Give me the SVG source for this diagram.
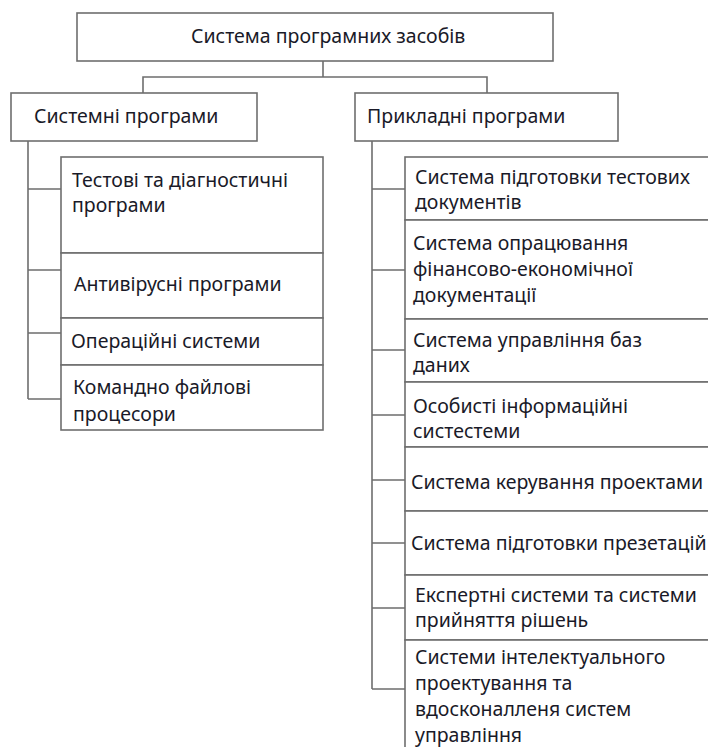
<svg xmlns="http://www.w3.org/2000/svg" width="708" height="747" viewBox="0 0 708 747">
<style>
.box{fill:#fff;stroke:#6e6e6e;stroke-width:1.6}
.ln{fill:none;stroke:#6e6e6e;stroke-width:1.6}
text{font-family:"Noto Sans","Open Sans","DejaVu Sans",sans-serif;font-size:19.5px;fill:#1a1a28}
</style>
<rect width="708" height="747" fill="#fff"/>
<g id="connectors">
<path class="ln" d="M323 61V77M143 93V77H487V93"/>
<path class="ln" d="M28 141V399M28 189H61M28 270H61M28 333H61M28 399H61"/>
<path class="ln" d="M372 141V689M372 189H405M372 270H405M372 350H405M372 415H405M372 480H405M372 543H405M372 608H405M372 689H405"/>
</g>
<g id="root"><rect class="box" x="77" y="13" width="476" height="48"/><text x="191" y="43">Система програмних засобів</text></g>
<g id="sys"><rect class="box" x="11" y="93" width="246" height="48"/><text x="34" y="123">Системні програми</text></g>
<g id="app"><rect class="box" x="355" y="93" width="263" height="48"/><text x="367" y="123">Прикладні програми</text></g>
<g id="s1"><rect class="box" x="61" y="157" width="262" height="96"/><text x="72" y="187">Тестові та діагностичні</text><text x="72" y="212">програми</text></g>
<g id="s2"><rect class="box" x="61" y="253" width="262" height="65"/><text x="74" y="291">Антивірусні програми</text></g>
<g id="s3"><rect class="box" x="61" y="318" width="262" height="47"/><text x="71" y="348">Операційні системи</text></g>
<g id="s4"><rect class="box" x="61" y="365" width="262" height="65"/><text x="73" y="394">Командно файлові</text><text x="73" y="421">процесори</text></g>
<g id="a1"><rect class="box" x="405" y="157" width="320" height="63"/><text x="415" y="184">Система підготовки тестових</text><text x="415" y="209">документів</text></g>
<g id="a2"><rect class="box" x="405" y="220" width="320" height="99"/><text x="413" y="250">Система опрацювання</text><text x="413" y="276">фінансово-економічної</text><text x="413" y="302">документації</text></g>
<g id="a3"><rect class="box" x="405" y="319" width="320" height="63"/><text x="413" y="347">Система управління баз</text><text x="413" y="372">даних</text></g>
<g id="a4"><rect class="box" x="405" y="382" width="320" height="65"/><text x="413" y="413">Особисті інформаційні</text><text x="413" y="438">систестеми</text></g>
<g id="a5"><rect class="box" x="405" y="447" width="320" height="64"/><text x="411" y="489">Система керування проектами</text></g>
<g id="a6"><rect class="box" x="405" y="511" width="320" height="64"/><text x="411" y="550">Система підготовки презетацій</text></g>
<g id="a7"><rect class="box" x="405" y="575" width="320" height="65"/><text x="415" y="602">Експертні системи та системи</text><text x="415" y="627">прийняття рішень</text></g>
<g id="a8"><rect class="box" x="405" y="640" width="320" height="130"/><text x="415" y="664">Системи інтелектуального</text><text x="415" y="690">проектування та</text><text x="415" y="716">вдосконалленя систем</text><text x="415" y="742">управління</text></g>
</svg>
